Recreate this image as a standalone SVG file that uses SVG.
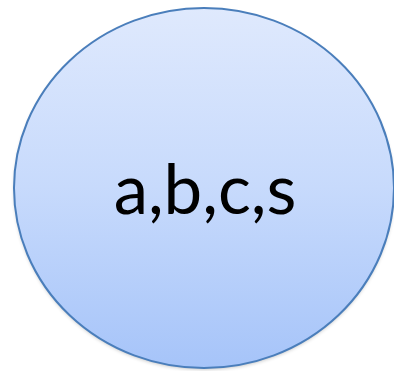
<svg xmlns="http://www.w3.org/2000/svg" width="394" height="371" viewBox="0 0 394 371">
<defs>
<linearGradient id="g" x1="0" y1="0" x2="0" y2="1">
<stop offset="0" stop-color="#dfe9fd"/>
<stop offset="0.5" stop-color="#c7dafc"/>
<stop offset="1" stop-color="#a6c4f9"/>
</linearGradient>
<filter id="sh" x="-10%" y="-10%" width="120%" height="120%">
<feGaussianBlur stdDeviation="2"/>
</filter>
<style>
.lbl{font-family:"Lato","Open Sans","Liberation Sans",sans-serif;font-size:69px;fill:#000}
</style>
</defs>
<g id="node1">
<ellipse cx="204" cy="190" rx="189" ry="179" fill="#000" opacity="0.3" filter="url(#sh)"/>
<ellipse cx="204" cy="188" rx="190" ry="180" fill="url(#g)" stroke="#4a7ebb" stroke-width="2"/>
<text class="lbl" x="205" y="214" text-anchor="middle">a,b,c,s</text>
</g>
<g id="connectors"/>
</svg>
